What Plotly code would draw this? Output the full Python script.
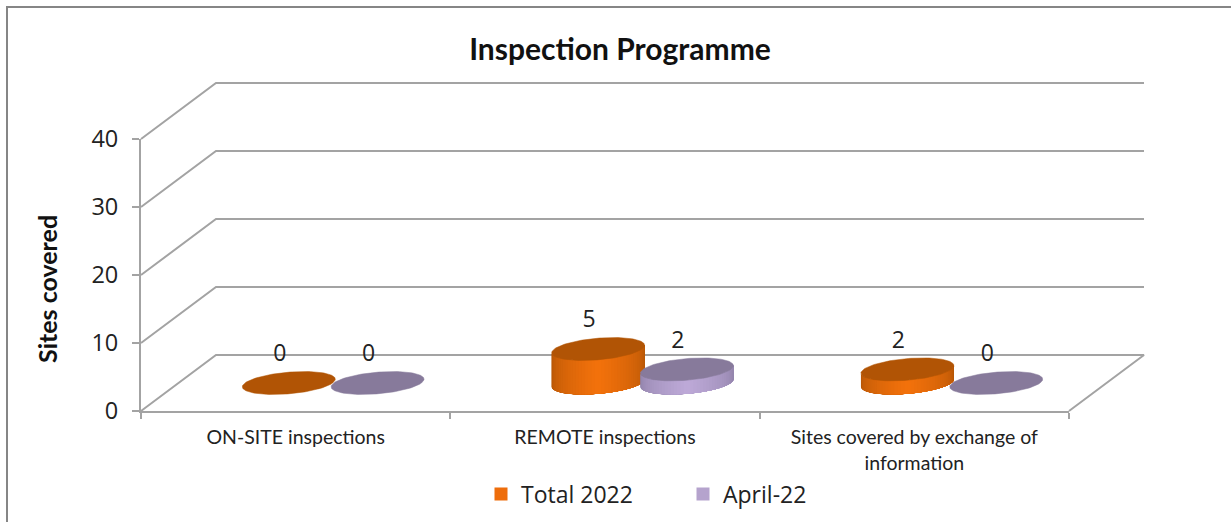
import numpy as np
import plotly.graph_objects as go

categories = ["ON-SITE inspections", "REMOTE inspections", "Sites covered by exchange of<br>information"]
total_2022 = [0, 5, 2]
april_22 = [0, 2, 0]
y_ticks = [0, 10, 20, 30, 40]
series_names = ["Total 2022", "April-22"]

W, H = 1231, 522
FX0, FX1, FY0, FY40 = 141, 1069, 411, 139
PX_CAT = (FX1 - FX0) / 3
PX_VAL = (FY0 - FY40) / 40
DEPTH_X = 75 / PX_CAT
DEPTH_Y = 56 / PX_VAL

GRID = "#a3a3a3"
FONT = "Lato, Carlito, sans-serif"
TXT = "#222222"
STYLES = [
    dict(top="#b15405", edge=(176, 84, 6), mid=(244, 114, 12), legend="#ee6d0b"),
    dict(top="#877a9b", edge=(140, 126, 165), mid=(190, 170, 216), legend="#b5a3cd"),
]

fig = go.Figure()
fig.add_trace(go.Scatter(x=[0, 3], y=[0, 40], mode="markers", marker=dict(opacity=0),
                         showlegend=False, hoverinfo="skip", xaxis="x", yaxis="y"))


def ell(cx, v, t, r=0.205):
    a = 43.9 / PX_CAT
    return (cx + 0.5 * DEPTH_X + a * np.cos(t) + r * DEPTH_X * np.sin(t),
            v + 0.5 * DEPTH_Y + r * DEPTH_Y * np.sin(t))


def poly(xs, ys, color, width=0.0):
    fig.add_trace(go.Scatter(x=list(xs) + [xs[0]], y=list(ys) + [ys[0]], mode="lines", fill="toself",
                             fillcolor=color, line=dict(color=color, width=width),
                             showlegend=False, hoverinfo="skip", xaxis="x2", yaxis="y2"))


for v in y_ticks:
    gx = [0, DEPTH_X, 3 + DEPTH_X]
    gy = [v, v + DEPTH_Y, v + DEPTH_Y]
    if v == 0:
        gx = gx + [3]
        gy = gy + [0]
    fig.add_trace(go.Scatter(x=gx, y=gy, mode="lines", line=dict(color=GRID, width=2),
                             showlegend=False, hoverinfo="skip", xaxis="x2", yaxis="y2"))

OFFSET = 0.1435
T = np.linspace(0, 2 * np.pi, 121)
t0 = np.arctan2(0.205 * DEPTH_X * PX_CAT, 43.9)
N = 44
for i, cat in enumerate(categories):
    for s, vals in enumerate([total_2022, april_22]):
        v = vals[i]
        st = STYLES[s]
        cx = i + 0.5 + (-OFFSET if s == 0 else OFFSET)
        if v > 0:
            ts = np.linspace(t0 - np.pi, t0, N + 1)
            for k in range(N):
                f = 1 - abs((k + 0.5) / N - 0.5) * 2
                f = f ** 0.8
                c = tuple(int(st["edge"][j] + (st["mid"][j] - st["edge"][j]) * f) for j in range(3))
                col = "rgb(%d,%d,%d)" % c
                # each strip runs to the right-hand edge, the next one paints over it
                tt = np.linspace(ts[k], t0, 60)
                xb, yb = ell(cx, 0, tt)
                xt, yt = ell(cx, v, tt[::-1])
                poly(np.r_[xb, xt], np.r_[yb, yt], col)
        xe, ye = ell(cx, v, T)
        poly(xe, ye, st["top"], 0.5)
        fig.add_trace(go.Scatter(x=[cx + 0.5 * DEPTH_X - 9 / PX_CAT], y=[v + 0.5 * DEPTH_Y + 27.5 / PX_VAL],
                                 mode="text", text=[str(v)], textposition="middle center",
                                 textfont=dict(family="Open Sans", size=23, color=TXT),
                                 showlegend=False, hoverinfo="skip", xaxis="x2", yaxis="y2"))

for s, name in enumerate(series_names):
    fig.add_trace(go.Scatter(x=[None], y=[None], mode="markers", name=name,
                             marker=dict(symbol="square", size=13, color=STYLES[s]["legend"]),
                             xaxis="x2", yaxis="y2"))

fig.update_layout(
    width=W, height=H, autosize=False,
    margin=dict(l=0, r=0, t=0, b=0, autoexpand=False),
    paper_bgcolor="white", plot_bgcolor="rgba(0,0,0,0)",
    title=dict(text="<b>Inspection Programme</b>", x=620 / W, xanchor="center", xref="paper",
               y=1 - 49 / H, yanchor="middle", yref="container",
               font=dict(family=FONT, size=30, color="#111111")),
    xaxis=dict(domain=[FX0 / W, FX1 / W], range=[0, 3], anchor="y", automargin=False,
               tickmode="array", tickvals=[0.5, 1.5, 2.5], ticktext=categories, ticks="", showgrid=False,
               zeroline=False, showline=True, linecolor=GRID, linewidth=2, ticklabelstandoff=8,
               tickfont=dict(family=FONT, size=19.5, color=TXT),
               minor=dict(tickmode="array", tickvals=[0, 1, 2, 3], ticks="outside", ticklen=6, tickwidth=2,
                          tickcolor=GRID, showgrid=False)),
    yaxis=dict(domain=[1 - FY0 / H, 1 - FY40 / H], range=[0, 40], anchor="x", automargin=False,
               tickmode="array", tickvals=y_ticks, ticks="outside", ticklen=7, tickwidth=2, tickcolor=GRID,
               showgrid=False, zeroline=False, showline=True, linecolor=GRID, linewidth=2, ticklabelstandoff=9,
               tickfont=dict(family="Open Sans", size=23.5, color=TXT)),
    xaxis2=dict(domain=[0, 1], range=[-FX0 / PX_CAT, (W - FX0) / PX_CAT], visible=False, anchor="y2"),
    yaxis2=dict(domain=[0, 1], range=[(FY0 - H) / PX_VAL, FY0 / PX_VAL], visible=False, anchor="x2"),
    legend=dict(orientation="h", x=481 / W, xanchor="left", y=1 - 494 / H, yanchor="middle",
                entrywidth=157, entrywidthmode="pixels", bgcolor="rgba(0,0,0,0)",
                font=dict(family="Open Sans", size=23, color=TXT)),
    shapes=[dict(type="path", xref="paper", yref="paper",
                 path=f"M {7 / W} 0 L {7 / W} {1 - 7 / H} L 1 {1 - 7 / H}",
                 line=dict(color="#868686", width=2))],
    annotations=[dict(text="<b>Sites covered</b>", xref="paper", yref="paper", x=47 / W, y=1 - 289 / H,
                      textangle=-90, showarrow=False, xanchor="center", yanchor="middle",
                      font=dict(family=FONT, size=25, color="#111111"))],
)
fig.write_html("out.html", config=dict(displayModeBar=False),
               post_script="document.body.style.margin='0';document.body.style.overflow='hidden';")
